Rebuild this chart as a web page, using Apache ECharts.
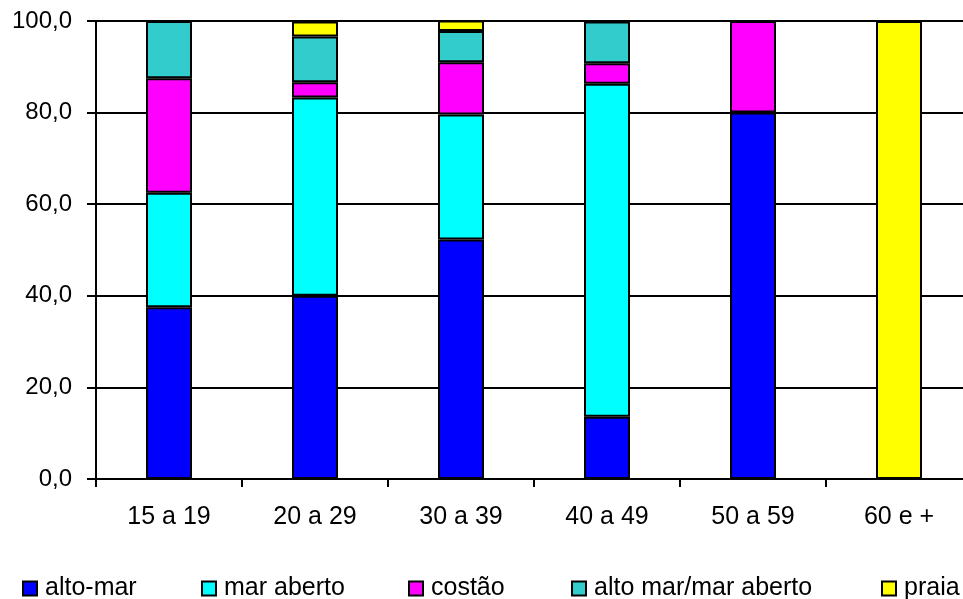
<!DOCTYPE html>
<html>
<head>
<meta charset="utf-8">
<script src="https://cdn.jsdelivr.net/npm/echarts@6/dist/echarts.min.js"></script>
<style>html,body{margin:0;padding:0;background:#fff}#c{width:963px;height:599px}</style>
</head>
<body>
<div id="c"></div>
<script>
var categories = ['15 a 19', '20 a 29', '30 a 39', '40 a 49', '50 a 59', '60 e +'];
var altoMar = [37.5, 40.0, 52.3, 13.6, 80.0, 0];
var marAberto = [25.0, 43.3, 27.3, 72.7, 0, 0];
var costao = [25.0, 3.3, 11.4, 4.5, 20.0, 0];
var altoMarMarAberto = [12.5, 10.0, 6.8, 9.1, 0, 0];
var praia = [0, 3.3, 2.3, 0, 0, 100.0];
var yTicks = [0, 20, 40, 60, 80, 100];

var seriesDefs = [
  {name: 'alto-mar', data: altoMar, color: '#0000FF'},
  {name: 'mar aberto', data: marAberto, color: '#00FFFF'},
  {name: 'costão', data: costao, color: '#FF00FF'},
  {name: 'alto mar/mar aberto', data: altoMarMarAberto, color: '#33CCCC'},
  {name: 'praia', data: praia, color: '#FFFF00'}
];
var legendLeft = [22, 201, 408, 571, 881];
var font = 'Liberation Sans, Arial, sans-serif';

var chart = echarts.init(document.getElementById('c'), null, {renderer: 'canvas'});
chart.setOption({
  animation: false,
  backgroundColor: '#fff',
  grid: {left: 96, width: 876, top: 21, height: 458, outerBoundsMode: 'none', containLabel: false},
  legend: seriesDefs.map(function (s, i) {
    return {
      data: [s.name], left: legendLeft[i], top: 576,
      itemWidth: 14, itemHeight: 14, icon: 'rect',
      textStyle: {fontFamily: font, fontSize: 25, color: '#000', padding: [0, 0, 0, 3]},
      padding: 0
    };
  }),
  xAxis: {
    type: 'category', data: categories,
    axisLine: {lineStyle: {color: '#000', width: 2}},
    axisTick: {show: true, length: 8, lineStyle: {color: '#000', width: 2}},
    axisLabel: {fontFamily: font, fontSize: 25, color: '#000', margin: 26}
  },
  yAxis: {
    type: 'value', min: 0, max: 100, interval: 20,
    axisLine: {show: true, lineStyle: {color: '#000', width: 2}},
    axisTick: {show: true, length: 9, lineStyle: {color: '#000', width: 2}},
    axisLabel: {fontFamily: font, fontSize: 24, color: '#000', margin: 24,
      formatter: function (v) { return v.toFixed(1).replace('.', ','); }},
    splitLine: {lineStyle: {color: '#000', width: 2}}
  },
  series: seriesDefs.map(function (s) {
    return {
      name: s.name, type: 'bar', stack: 'total', barWidth: 46,
      data: s.data.map(function (v) { return v === 0 ? '-' : v; }),
      itemStyle: {color: s.color, borderColor: '#000', borderWidth: 2}
    };
  })
});
</script>
</body>
</html>
